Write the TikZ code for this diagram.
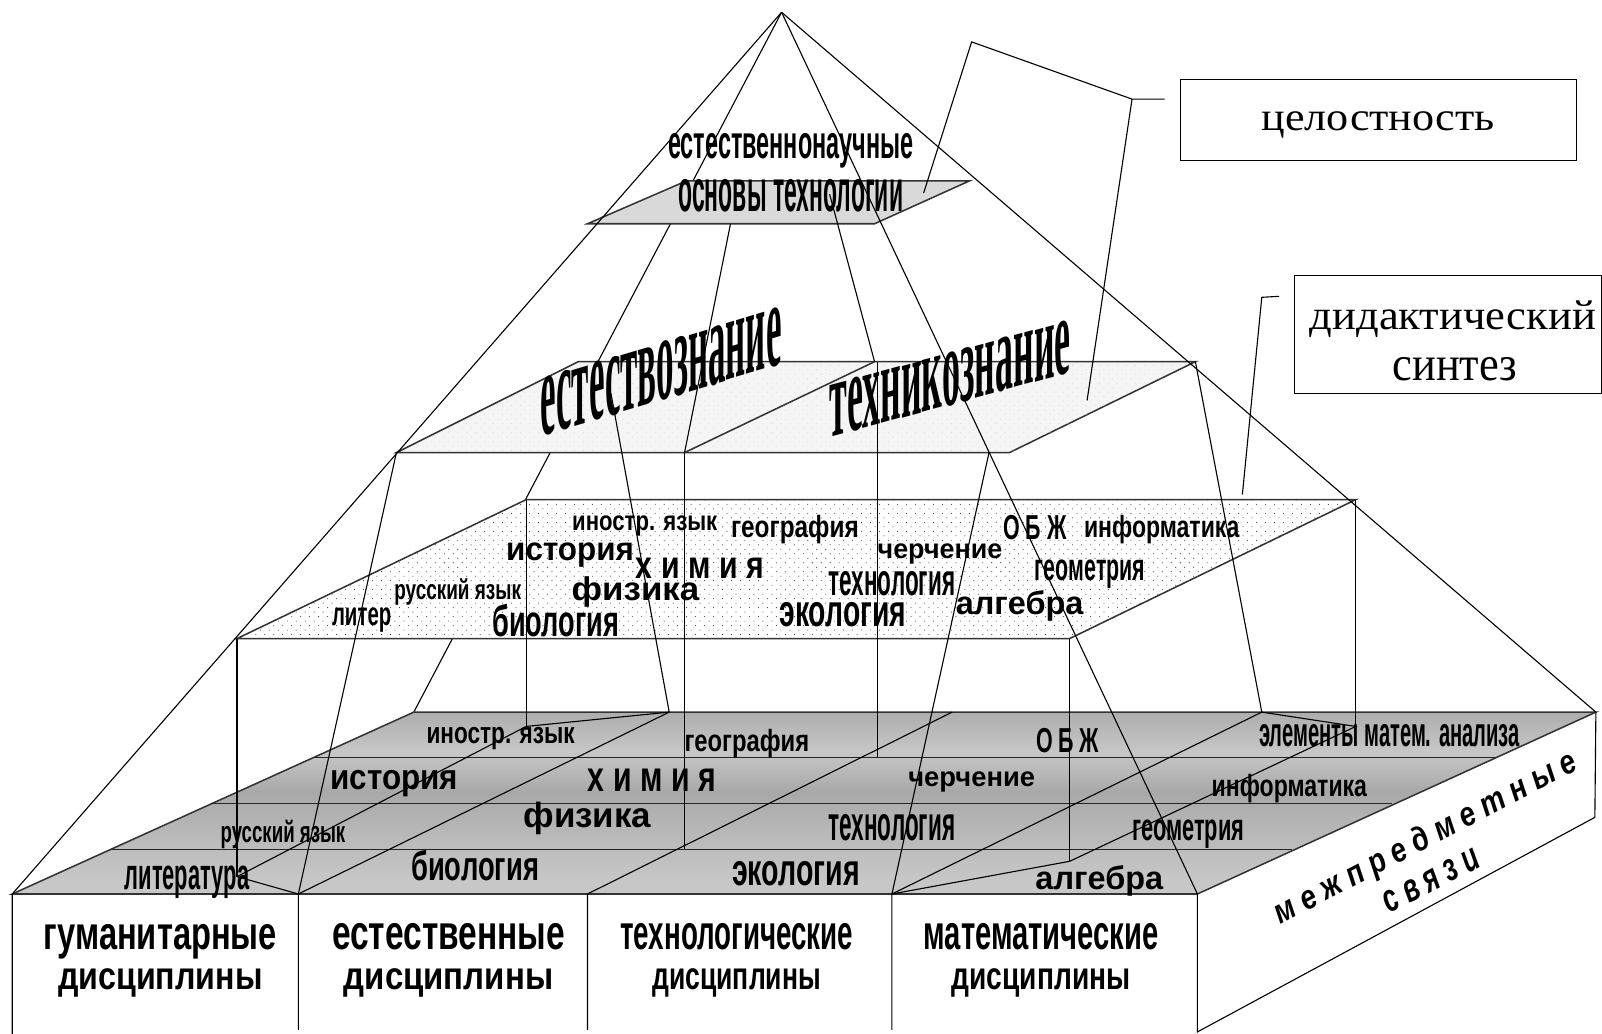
\documentclass[tikz,border=0pt]{standalone}
\usepackage{fontspec}
\usepackage{graphicx}
\setmainfont{Liberation Sans}
\newfontfamily\srf{Liberation Serif}
\usetikzlibrary{patterns}
\newlength\ulen
\setlength\ulen{0.02cm}
\definecolor{fa}{gray}{0.68}
\definecolor{fb}{gray}{0.78}
\definecolor{fc}{gray}{0.66}
\definecolor{fd}{gray}{0.70}
\definecolor{fe}{gray}{0.78}
\pgfdeclareverticalshading{floorshade}{100bp}{color(0bp)=(fe); color(25bp)=(fe); color(29bp)=(fe); color(46bp)=(fd); color(53bp)=(fc); color(64bp)=(fb); color(75bp)=(fa); color(100bp)=(fa)}
\pgfdeclarepatternformonly{fdots}{\pgfqpoint{-1pt}{-1pt}}{\pgfqpoint{6pt}{6pt}}{\pgfqpoint{5pt}{5pt}}{%
  \pgfpathcircle{\pgfqpoint{0pt}{0pt}}{.3pt}%
  \pgfpathcircle{\pgfqpoint{2.5pt}{2.5pt}}{.3pt}%
  \pgfusepath{fill}}
\newcommand{\tx}[6]{\node[inner sep=0pt] (#1) at (#2,#3) {\resizebox*{#4\ulen}{#5\ulen}{\bfseries #6}};}
\newcommand{\txs}[6]{\node[inner sep=0pt] (#1) at (#2,#3) {\resizebox*{#4\ulen}{#5\ulen}{\srf #6}};}
\tikzset{
  ln/.style={line width=0.62pt,black},
  plane/.style={line width=0.85pt,draw=black!80},
  midplane/.style={plane,fill=white,postaction={pattern=fdots,pattern color=black!75}},
  upplane/.style={plane,fill=black!4,postaction={pattern=fdots,pattern color=black!15}},
  topplane/.style={plane,fill=black!15},
  calloutbox/.style={draw=black,line width=0.62pt,inner sep=0pt,fill=white}
}
\begin{document}
\begin{tikzpicture}[x=0.02cm,y=-0.02cm]
\useasboundingbox (0,0) rectangle (1568,1012);
\fill[white] (0,0) rectangle (1568,1012);
% key points
\coordinate (A) at (765,12);
\coordinate (F1) at (12,875);
\coordinate (F2) at (292,875);
\coordinate (F3) at (575,875);
\coordinate (F4) at (873,875);
\coordinate (F5) at (1172,875);
\coordinate (B0) at (405,697);
\coordinate (B1) at (655,697);
\coordinate (B2) at (932,697);
\coordinate (B3) at (1235,697);
\coordinate (B4) at (1562,697);
% hidden spine behind the planes
\draw[ln] (A) -- (B0);
% floor
\fill[shading=floorshade] (F1) -- (B0) -- (B4) -- (F5) -- cycle;
\draw[plane] (F1) -- (B0) -- (B4) -- (F5) -- cycle;
\coordinate (L1) at (307,741.5); \coordinate (R1) at (1464,741.5);
\coordinate (L2) at (207,786.6); \coordinate (R2) at (1362,786.6);
\coordinate (L3) at (108,831.6); \coordinate (R3) at (1265,831.6);
\draw[ln,black!85] (L1) -- (R1) (L2) -- (R2) (L3) -- (R3);
\draw[ln] (F2) -- (B1) (F3) -- (B2) (F4) -- (B3);
% front and side faces
\coordinate (D1) at (12,1012);
\coordinate (D2) at (292,1008);
\coordinate (D3) at (575,1008);
\coordinate (D4) at (873,1008);
\coordinate (D5) at (1172,1010);
\coordinate (D6) at (1561,800);
\draw[ln] (F1) -- (D1) (F2) -- (D2) (F3) -- (D3) (F4) -- (D4) (F5) -- (D5) -- (D6) -- (B4);
% planes
\coordinate (P1) at (232,625); \coordinate (P2) at (515,489); \coordinate (P3) at (1327,489); \coordinate (P4) at (1047,625);
\draw[midplane] (P1) -- (P2) -- (P3) -- (P4) -- cycle;
\coordinate (Q1) at (388,443); \coordinate (Q2) at (566,354); \coordinate (Q3) at (1170,354); \coordinate (Q4) at (988,443);
\coordinate (Q5) at (670,443); \coordinate (Q6) at (856,354);
\draw[upplane] (Q1) -- (Q2) -- (Q3) -- (Q4) -- cycle;
\draw[plane] (Q5) -- (Q6);
\coordinate (T1) at (575,219); \coordinate (T2) at (672,177); \coordinate (T3) at (949,177); \coordinate (T4) at (856,219);
\draw[topplane] (T1) -- (T2) -- (T3) -- (T4) -- cycle;
% pyramid edges
\draw[ln] (A) -- (F1);
\draw[ln] (A) -- (B4);
\draw[ln] (A) -- (F5);
\draw[ln] (Q1) -- (F2);
\coordinate (Ta) at (715,219);
\draw[ln] (Ta) -- (Q5);
\coordinate (Tb) at (812,190);
\draw[ln] (Tb) -- (Q6);
\coordinate (Qa) at (968,443);
\draw[ln] (Qa) -- (F4);
\draw[ln] (Q3) -- (B3);
\coordinate (Qb) at (598,385);
\draw[ln] (Qb) -- (B1);
% verticals down from the planes
\coordinate (V1) at (232,858);
\coordinate (V2) at (515,711);
\coordinate (V3) at (1327,711);
\coordinate (V4) at (1047,843);
\coordinate (V5) at (670,831);
\coordinate (V6) at (859,741);
\coordinate (V7) at (859,354);
\draw[ln] (P1) -- (V1);
\draw[ln] (P2) -- (V2);
\draw[ln] (P3) -- (V3);
\draw[ln] (P4) -- (V4);
\draw[ln] (Q5) -- (V5);
\draw[ln] (V7) -- (V6);
\draw[ln] (V1) -- (F2);
\draw[ln] (V1) -- (V2) -- (B1);
\draw[ln] (V4) -- (V3) -- (B3);
\draw[ln] (V4) -- (F4);
% callout boxes
\node[calloutbox,minimum width=388\ulen,minimum height=79\ulen] (boxA) at (1349,117.5) {};
\node[calloutbox,minimum width=301\ulen,minimum height=115\ulen] (boxB) at (1417.5,327.5) {};
\coordinate (Ca) at (1140,97);
\coordinate (Cb) at (1108,97);
\coordinate (Cc) at (951,41);
\coordinate (Cd) at (904,189);
\coordinate (Ce) at (1064,392);
\draw[ln] (Ca) -- (Cb) -- (Cc) -- (Cd);
\draw[ln] (Cb) -- (Ce);
\coordinate (Cf) at (1252,290);
\coordinate (Cg) at (1235,291);
\coordinate (Ch) at (1216,484);
\draw[ln] (Cf) -- (Cg) -- (Ch);
\txs{tA}{1349}{122}{228}{26}{целостность}
\txs{tB}{1422}{312}{280}{36}{дидактический}
\txs{tC}{1424}{361}{122}{23}{синтез}
% top texts
\tx{u1}{774}{148}{240}{34}{естественнонаучные}
\tx{u2}{774}{192}{220}{32}{основы технологии}
% slanted titles
\begin{scope}[shift={(647,364)}]
\node[yslant=0.3,transform shape,inner sep=0pt] (w1) at (0,0) {\resizebox*{236\ulen}{58\ulen}{\srf\bfseries естествознание}};
\end{scope}
\begin{scope}[shift={(930,371)}]
\node[yslant=0.27,transform shape,inner sep=0pt] (w2) at (0,0) {\resizebox*{236\ulen}{53\ulen}{\srf\bfseries техникознание}};
\end{scope}
% middle plane texts
\tx{m1}{631}{515}{142}{20}{иностр. язык}
\tx{m2}{778}{518}{125}{28}{география}
\tx{m3}{1013}{516}{62}{24}{О Б Ж}
\tx{m4}{1137}{518}{152}{28}{информатика}
\tx{m5}{558}{543}{125}{24}{история}
\tx{m6}{685}{556}{125}{20}{х и м и я}
\tx{m7}{920}{542}{122}{20}{черчение}
\tx{m8}{1067}{562}{108}{28}{геометрия}
\tx{m9}{448}{579}{124}{26}{русский язык}
\tx{m10}{622}{579}{125}{30}{физика}
\tx{m11}{873}{571}{124}{24}{технология}
\tx{m12}{354}{607}{58}{24}{литер}
\tx{m13}{544}{607}{124}{32}{биология}
\tx{m14}{825}{602}{124}{24}{экология}
\tx{m15}{998}{593}{125}{30}{алгебра}
% floor texts
\tx{f1}{183}{863}{122}{32}{литература}
\tx{f2}{277}{817}{122}{28}{русский язык}
\tx{f3}{386}{767}{125}{26}{история}
\tx{f4}{490}{723}{145}{22}{иностр. язык}
\tx{f5}{465}{847}{125}{30}{биология}
\tx{f6}{575}{801}{125}{32}{физика}
\tx{f7}{638}{764}{125}{22}{х и м и я}
\tx{f8}{731}{728}{122}{28}{география}
\tx{f9}{779}{855}{125}{24}{экология}
\tx{f10}{873}{810}{124}{26}{технология}
\tx{f11}{951}{765}{124}{20}{черчение}
\tx{f12}{1045}{725}{62}{24}{О Б Ж}
\tx{f13}{1076}{862}{125}{30}{алгебра}
\tx{f14}{1163}{816}{110}{28}{геометрия}
\tx{f15}{1262}{772}{152}{28}{информатика}
\tx{f16}{1360}{720}{255}{22}{элементы матем. анализа}
% front face texts
\tx{c1}{157}{922}{228}{34}{гуманитарные}
\tx{c2}{157}{962}{200}{28}{дисциплины}
\tx{c3}{439}{917}{228}{26}{естественные}
\tx{c4}{439}{962}{205}{28}{дисциплины}
\tx{c5}{721}{917}{228}{26}{технологические}
\tx{c6}{721}{962}{165}{28}{дисциплины}
\tx{c7}{1019}{917}{230}{26}{математические}
\tx{c8}{1019}{962}{175}{28}{дисциплины}
% side face
\node[rotate=27.5,inner sep=0pt] (s1) at (1396,821) {\resizebox*{330\ulen}{31\ulen}{\addfontfeature{LetterSpace=28}\bfseries\itshape межпредметные}};
\node[rotate=27.5,inner sep=0pt] (s2) at (1401,862) {\resizebox*{102\ulen}{21\ulen}{\addfontfeature{LetterSpace=28}\bfseries\itshape связи}};
\end{tikzpicture}
\end{document}
